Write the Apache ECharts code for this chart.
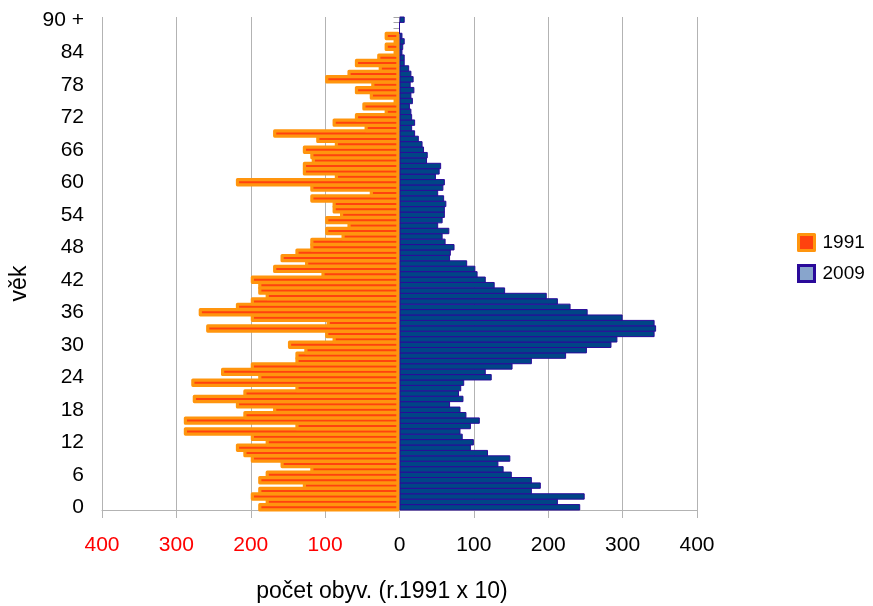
<!DOCTYPE html>
<html>
<head>
<meta charset="utf-8">
<script src="https://cdn.jsdelivr.net/npm/echarts@6/dist/echarts.min.js"></script>
<style>
html,body{margin:0;padding:0;background:#fff;}
#chart{width:873px;height:606px;}
</style>
</head>
<body>
<div id="chart"></div>
<script>
// age categories 0 .. 90+
var ages = [];
for (var i = 0; i < 90; i++) ages.push(String(i));
ages.push('90 +');

// 1991 (drawn to the left, negative), age 0 .. 90+
var pop1991 = [
  -190, -180, -200, -190, -130, -190, -180, -120, -160, -200,
  -210, -220, -180, -200, -290, -140, -290, -210, -170, -220,
  -278, -210, -140, -280, -190, -240, -200, -140, -140, -128,
  -150, -90, -100, -260, -98, -200, -270, -220, -200, -180,
  -190, -190, -200, -105, -170, -127, -160, -140, -120, -120,
  -78, -100, -70, -100, -80, -90, -90, -120, -40, -120,
  -220, -87, -130, -130, -118, -120, -130, -87, -112, -170,
  -47, -90, -60, -20, -50, -8, -40, -60, -38, -100,
  -70, -28, -60, -30, -8, -20, -8, -20, null, null,
  null
];

// 2009 (drawn to the right), age 0 .. 90+
var pop2009 = [
  243, 213, 249, 178, 190, 178, 151, 140, 133, 149,
  119, 96, 100, 85, 82, 96, 108, 90, 82, 68,
  86, 80, 83, 87, 124, 116, 152, 178, 224, 252,
  285, 293, 343, 345, 343, 300, 253, 230, 213, 198,
  142, 128, 116, 105, 102, 91, 68, 69, 74, 62,
  58, 67, 52, 58, 61, 61, 63, 60, 52, 59,
  61, 49, 54, 56, 37, 38, 33, 31, 26, 21,
  17, 21, 17, 16, 14, 18, 16, 20, 15, 19,
  16, 13, 7, 7, 4, 5, 7, 4, 0, 0,
  7
];

var xTicks = { min: -400, max: 400, step: 100 };

var FONT = 'Liberation Sans, Arial, sans-serif';
var GRID = '#b3b3b3';

var chart = echarts.init(document.getElementById('chart'), null, { renderer: 'canvas' });
chart.setOption({
  animation: false,
  backgroundColor: '#ffffff',
  textStyle: { fontFamily: FONT },
  title: {
    text: 'počet obyv. (r.1991 x 10)',
    left: 382,
    top: 580,
    padding: 0,
    textAlign: 'center',
    textStyle: { fontSize: 23, fontWeight: 'normal', color: '#000', fontFamily: FONT }
  },
  legend: {
    orient: 'vertical',
    left: 792,
    top: 228,
    itemWidth: 16,
    itemHeight: 16,
    itemGap: 12,
    textStyle: { fontSize: 19, color: '#000', fontFamily: FONT, padding: [0, 0, 0, 3] },
    data: [
      { name: '1991', icon: 'rect', itemStyle: { color: '#ff420e', borderColor: '#ff950e', borderWidth: 3 } },
      { name: '2009', icon: 'rect', itemStyle: { color: '#88a5cc', borderColor: '#2a0a9a', borderWidth: 3 } }
    ]
  },
  grid: { left: 102, right: 176, top: 17, bottom: 96, containLabel: false },
  xAxis: {
    type: 'value',
    min: xTicks.min,
    max: xTicks.max,
    interval: xTicks.step,
    axisLine: { show: true, lineStyle: { color: GRID, width: 1 } },
    axisTick: { show: true, length: 8, lineStyle: { color: GRID } },
    splitLine: { show: true, lineStyle: { color: GRID, width: 1 } },
    axisLabel: {
      fontSize: 21,
      margin: 25,
      fontFamily: FONT,
      formatter: function (v) { return String(Math.abs(v)); },
      color: function (v) { return Number(v) < 0 ? '#ff0000' : '#000000'; }
    }
  },
  yAxis: [
    {
      type: 'category',
      data: ages,
      name: 'věk',
      nameLocation: 'middle',
      nameRotate: 90,
      nameGap: 68,
      nameTextStyle: { fontSize: 23, color: '#000', fontFamily: FONT, padding: [0, 40, 0, 0] },
      axisLine: { show: true, lineStyle: { color: GRID, width: 1 } },
      axisTick: { show: true, interval: 0, length: 6, lineStyle: { color: '#a6a6a6' } },
      splitLine: { show: false },
      axisLabel: { interval: 5, fontSize: 21, margin: 18, color: '#000', fontFamily: FONT }
    },
    {
      type: 'category',
      data: ages,
      show: false
    }
  ],
  series: [
    {
      name: '1991',
      type: 'bar',
      yAxisIndex: 0,
      data: pop1991,
      barWidth: 8.4,
      itemStyle: { color: '#ff420e', borderColor: '#ff950e', borderWidth: 3.2, borderJoin: 'round' }
    },
    {
      name: '2009',
      type: 'bar',
      yAxisIndex: 1,
      data: pop2009,
      barWidth: 6.4,
      itemStyle: { color: '#004586', borderColor: '#2a0a9a', borderWidth: 1 }
    }
  ]
});
</script>
</body>
</html>
